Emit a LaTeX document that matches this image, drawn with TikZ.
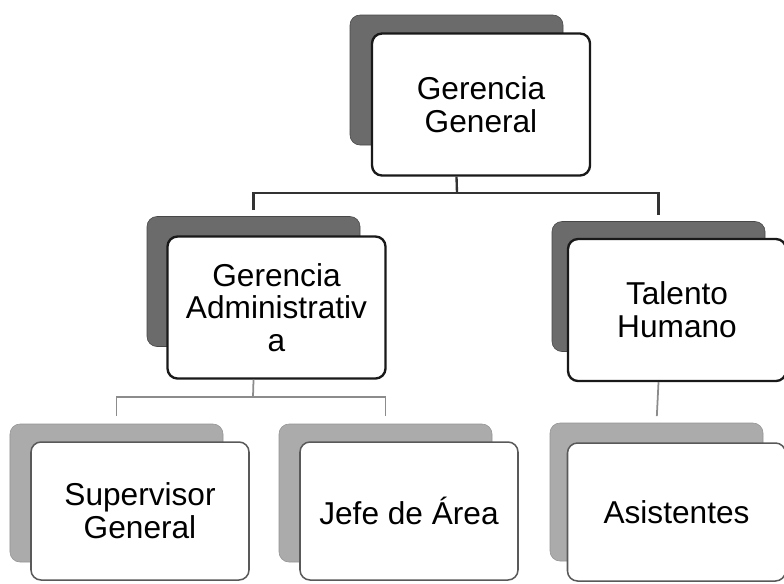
\documentclass[tikz,border=0pt]{standalone}
\usepackage{fontspec}
\setmainfont{Liberation Sans}
\usepackage{tikz}

\begin{document}
\begin{tikzpicture}[x=0.3mm, y=-0.3mm,
	back/.style={shape=rectangle, rounded corners=3mm, minimum width=63.9mm, minimum height=39mm, inner sep=0pt},
	upback/.style={back, fill=black!58, draw=black!72, line width=0.5pt},
	lowback/.style={back, minimum height=41.4mm, fill=black!33, draw=black!42, line width=0.5pt},
	front/.style={shape=rectangle, rounded corners=3mm, fill=white, align=center, inner sep=0pt,
		minimum width=65.4mm, minimum height=42.6mm, font=\fontsize{27}{28}\selectfont},
	upfront/.style={front, draw=black!90, line width=2pt},
	lowfront/.style={front, minimum height=41.4mm, draw=black!65, line width=1.3pt},
	bus/.style={draw=black!80, line width=2pt},
	lowbus/.style={draw=black!45, line width=1.5pt}]
	
	\useasboundingbox (0,0) rectangle (784,583);
	
	\node[upback] (gg-back) at (456.5, 80)    {};
	\node[upfront] (gg) at (481, 104.5)       {Gerencia\\General};
	
	\node[upback] (ga-back) at (253.5, 281.5) {};
	\node[upfront] (ga) at (276.5, 307.5)     {Gerencia\\Administrativ\\a};
	
	\node[upback] (th-back) at (658.5, 286.5) {};
	\node[upfront] (th) at (677, 310)         {Talento\\Humano};
	
	\node[lowback] (sg-back) at (116.5, 493)  {};
	\node[lowfront] (sg) at (140, 511)        {Supervisor\\General};
	
	\node[lowback] (ja-back) at (385.5, 493)  {};
	\node[lowfront] (ja) at (409, 511)        {Jefe de Área};
	
	\node[lowback] (as-back) at (656.5, 492)  {};
	\node[lowfront] (as) at (676.5, 512)      {Asistentes};
	
	\coordinate (hub) at (457, 193);
	\coordinate (ga-hub) at (253, 397);
	
	\path[bus] (gg-back |- gg.south) -- (hub);
	\path[bus, shorten <=1.8mm, shorten >=1.8mm] (ga-back.north) |- (hub) -| (th-back.north);
	\path[lowbus] (ga-back |- ga.south) -- (ga-hub);
	\path[lowbus, shorten <=2.4mm, shorten >=2.4mm] (sg-back.north) |- (ga-hub) -| (ja-back.north);
	\path[lowbus, shorten >=2mm] (th-back |- th.south) -- (as-back.north);
	
\end{tikzpicture}
\end{document}
